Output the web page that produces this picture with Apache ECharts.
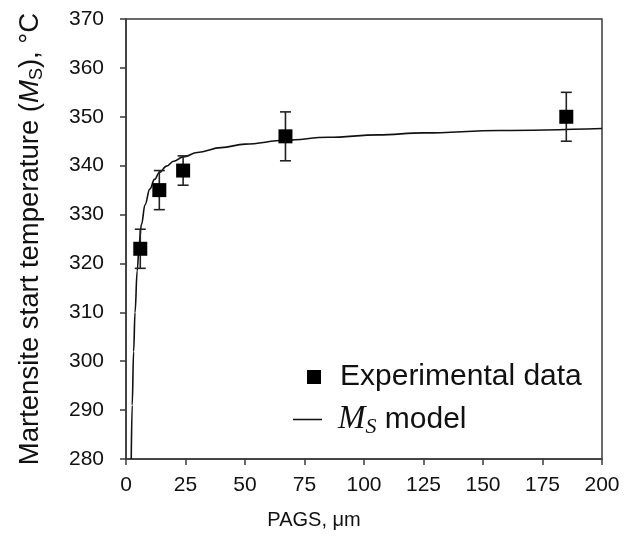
<!DOCTYPE html>
<html>
<head>
<meta charset="utf-8">
<script src="https://cdn.jsdelivr.net/npm/echarts@6/dist/echarts.min.js"></script>
<style>
  html, body { margin: 0; padding: 0; background: #fff; }
  #chart { width: 636px; height: 545px; }
</style>
</head>
<body>
<div id="chart"></div>
<script>
// Measured martensite start temperature vs prior austenite grain size
const pags = [6, 14, 24, 67, 185];
const msMean = [323, 335, 339, 346, 350];
const msErr = [4, 4, 3, 5, 5];

// Model curve samples (PAGS in µm, Ms in °C)
const modelPags = [2.2, 2.6, 3.2, 3.8, 4.7, 5.6, 6.5, 8, 10, 12, 14, 17, 20, 24, 30, 40, 50, 67, 85, 106, 125, 157, 200];
const modelMs = [280, 291, 302, 310, 318.5, 324.5, 328, 332, 335.2, 337.2, 338.6, 339.9, 340.9, 341.8, 342.7, 343.7, 344.4, 345.2, 345.8, 346.3, 346.7, 347.2, 347.6];

const FONT = 'Liberation Sans, Arial, sans-serif';
const SERIF = 'Liberation Serif, Times New Roman, serif';
const INK = '#111';
const AXIS = '#3a3a3a';

const chart = echarts.init(document.getElementById('chart'), null, { renderer: 'canvas' });

const errData = pags.map((d, i) => [d, msMean[i] - msErr[i], msMean[i] + msErr[i]]);
const ptData = pags.map((d, i) => [d, msMean[i]]);
const modelData = modelPags.map((d, i) => [d, modelMs[i]]);

chart.setOption({
  animation: false,
  backgroundColor: '#fff',
  grid: {
    left: 126, right: 34, top: 19, bottom: 86,
    show: true, borderColor: AXIS, borderWidth: 1.5, backgroundColor: 'transparent'
  },
  xAxis: {
    type: 'value', min: 0, max: 200, interval: 25,
    name: 'PAGS, μm', nameLocation: 'middle', nameGap: 51,
    nameTextStyle: { fontFamily: FONT, fontSize: 20, color: INK, padding: [0, 100, 0, 0] },
    axisLine: { show: true, onZero: false, lineStyle: { color: AXIS, width: 1.5 } },
    axisTick: { show: true, inside: false, length: 6, lineStyle: { color: AXIS, width: 1.5 } },
    axisLabel: { fontFamily: FONT, fontSize: 21, color: INK, margin: 16 },
    splitLine: { show: false }
  },
  yAxis: {
    type: 'value', min: 280, max: 370, interval: 10,
    name: 'Martensite start temperature ({mi|M}{ms|S}), °C',
    nameLocation: 'middle', nameGap: 80, nameRotate: 90,
    nameTextStyle: {
      fontFamily: FONT, fontSize: 27.5, color: INK,
      rich: {
        mi: { fontFamily: FONT, fontSize: 27.5, fontStyle: 'italic', color: INK },
        ms: { fontFamily: FONT, fontSize: 18, color: INK, padding: [13, 0, 0, 0] }
      }
    },
    axisLine: { show: true, onZero: false, lineStyle: { color: AXIS, width: 1.5 } },
    axisTick: { show: true, inside: false, length: 6, lineStyle: { color: AXIS, width: 1.5 } },
    axisLabel: { fontFamily: FONT, fontSize: 21, color: INK, margin: 22 },
    splitLine: { show: false }
  },
  legend: [
    {
      data: [{ name: 'Experimental data', icon: 'path://M0,0H10V10H0Z' }],
      left: 302, top: 357, orient: 'vertical',
      itemWidth: 42, itemHeight: 14, symbolKeepAspect: true,
      textStyle: { fontFamily: FONT, fontSize: 30, color: INK, lineHeight: 30 },
      selectedMode: false
    },
    {
      data: [{ name: 'model', icon: 'path://M0,0H30V1.6H0Z' }],
      left: 288, top: 398, orient: 'vertical',
      itemWidth: 29, itemHeight: 14, symbolKeepAspect: true,
      formatter: () => '{g|}{mi|M}{ms|S}{t| model}',
      textStyle: {
        fontFamily: FONT, fontSize: 30, color: INK, lineHeight: 30,
        rich: {
          g: { width: 11 },
          mi: { fontFamily: SERIF, fontSize: 33, fontStyle: 'italic', color: INK },
          ms: { fontFamily: SERIF, fontSize: 22, fontStyle: 'italic', color: INK, padding: [15, 0, 0, 0] },
          t: { fontFamily: FONT, fontSize: 30, color: INK }
        }
      },
      selectedMode: false
    }
  ],
  series: [
    {
      name: 'model',
      type: 'line',
      data: modelData,
      smooth: 0.4,
      smoothMonotone: 'x',
      symbol: 'none',
      showSymbol: false,
      clip: true,
      lineStyle: { color: INK, width: 1.6 },
      itemStyle: { color: INK },
      z: 2
    },
    {
      name: 'error',
      type: 'custom',
      data: errData,
      renderItem: (params, api) => {
        const x = api.value(0);
        const lo = api.coord([x, api.value(1)]);
        const hi = api.coord([x, api.value(2)]);
        const hw = 5.5;
        const st = { stroke: '#222', lineWidth: 1.6 };
        return {
          type: 'group',
          children: [
            { type: 'line', shape: { x1: lo[0], y1: lo[1], x2: hi[0], y2: hi[1] }, style: st },
            { type: 'line', shape: { x1: lo[0] - hw, y1: lo[1], x2: lo[0] + hw, y2: lo[1] }, style: st },
            { type: 'line', shape: { x1: hi[0] - hw, y1: hi[1], x2: hi[0] + hw, y2: hi[1] }, style: st }
          ]
        };
      },
      z: 3
    },
    {
      name: 'Experimental data',
      type: 'scatter',
      data: ptData,
      symbol: 'rect',
      symbolSize: 14,
      itemStyle: { color: '#000', opacity: 1 },
      emphasis: { disabled: true },
      z: 4
    }
  ]
});
</script>
</body>
</html>
